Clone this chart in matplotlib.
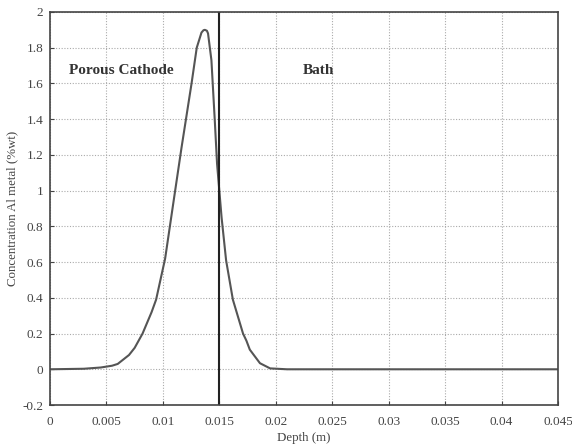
import matplotlib
matplotlib.use("Agg")
import matplotlib.pyplot as plt

depth = [0, 0.003, 0.0045, 0.0055, 0.006, 0.007, 0.0075, 0.0082, 0.009, 0.0094,
         0.0102, 0.0109, 0.01165, 0.01254, 0.0130, 0.01342, 0.0136, 0.01372, 0.0139,
         0.0140, 0.0143, 0.0146, 0.0148, 0.0152, 0.0156, 0.0162, 0.0171, 0.0174,
         0.0177, 0.0186, 0.0195, 0.021, 0.045]
conc = [0, 0.003, 0.01, 0.02, 0.03, 0.08, 0.12, 0.20, 0.32, 0.39,
        0.62, 0.92, 1.24, 1.60, 1.80, 1.885, 1.898, 1.90, 1.895,
        1.88, 1.73, 1.39, 1.15, 0.85, 0.61, 0.39, 0.20, 0.16,
        0.11, 0.034, 0.005, 0, 0]
boundary = 0.015
xticks = [0, 0.005, 0.01, 0.015, 0.02, 0.025, 0.03, 0.035, 0.04, 0.045]
xticklabels = ["0", "0.005", "0.01", "0.015", "0.02", "0.025", "0.03", "0.035", "0.04", "0.045"]
yticks = [-0.2, 0, 0.2, 0.4, 0.6, 0.8, 1, 1.2, 1.4, 1.6, 1.8, 2]
yticklabels = ["-0.2", "0", "0.2", "0.4", "0.6", "0.8", "1", "1.2", "1.4", "1.6", "1.8", "2"]

plt.rcParams['font.family'] = ['Liberation Serif', 'DejaVu Serif']

fig = plt.figure(figsize=(5.72, 4.44), dpi=100)
ax = fig.add_axes([0.0874, 0.0878, 0.9755 - 0.0874, 0.973 - 0.0878])

ax.plot(depth, conc, color='#555555', lw=1.5, solid_joinstyle='round')
ax.axvline(boundary, color='#222222', lw=1.5)

ax.set_xlim(0, 0.045)
ax.set_ylim(-0.2, 2)
ax.set_xticks(xticks)
ax.set_xticklabels(xticklabels)
ax.set_yticks(yticks)
ax.set_yticklabels(yticklabels)
ax.tick_params(direction='in', length=3, labelsize=9.5, colors='#444444', width=0.8, pad=5)
ax.tick_params(axis='x', pad=8)
ax.grid(True, linestyle=(0, (1, 1.5)), color='#aaaaaa', lw=0.8)
for s in ax.spines.values():
    s.set_color('#444444')
    s.set_linewidth(1.2)

ax.set_xlabel("Depth (m)", fontsize=9.3, color='#444444', labelpad=3)
ax.set_ylabel("Concentration Al metal (%wt)", fontsize=9.3, color='#444444', labelpad=3)

ax.text(0.0017, 1.67, "Porous Cathode", fontsize=11, fontweight='bold', color='#333333', va='center')
ax.text(0.0224, 1.67, "Bath", fontsize=11, fontweight='bold', color='#333333', va='center')

fig.savefig("out.png", dpi=100)
